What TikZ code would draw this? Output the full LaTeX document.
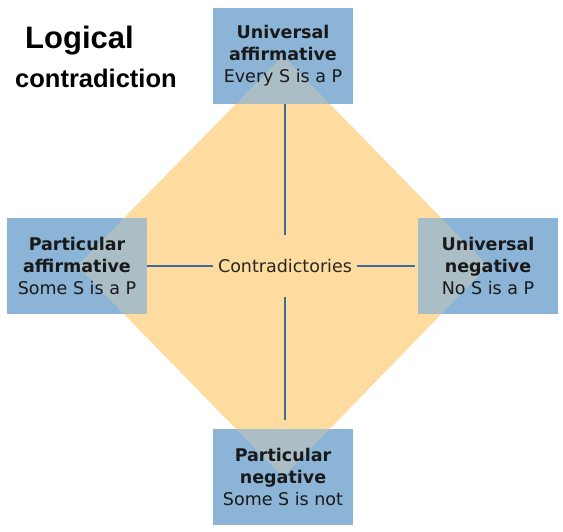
\documentclass[tikz,border=0pt]{standalone}
\usepackage{fontspec}
\setmainfont{DejaVu Sans}
\newfontfamily\titlefont{Liberation Sans}
\usetikzlibrary{positioning}
\definecolor{boxblue}{RGB}{140,180,214}
\definecolor{squareorange}{RGB}{254,219,159}
\definecolor{linkblue}{RGB}{58,108,156}
\pgfdeclarelayer{background}
\pgfsetlayers{background,main}

\begin{document}
\begin{tikzpicture}[x=1pt, y=-1pt,
    corner/.style={rectangle, minimum width=139pt, minimum height=96pt, inner sep=0pt, align=center, text=black!90, font=\fontsize{17.5}{22}\selectfont},
    title/.style={anchor=base west, inner sep=0pt},
    link/.style={draw=linkblue, line width=2.7pt}
]
    \useasboundingbox (0,0) rectangle (563,532);

    \node[title, font=\titlefont\bfseries\fontsize{31}{31}\selectfont] (t1) at (25,49) {Logical};
    \node[title, font=\titlefont\bfseries\fontsize{25.5}{25}\selectfont] (t2) at (15,88) {contradiction};

    \node[corner] (ua) at (283,56) {\textbf{Universal}\\\textbf{affirmative}\\Every S is a P};
    \node[corner] (pa) at (77,266) {\textbf{Particular}\\\textbf{affirmative}\\Some S is a P};
    \node[corner] (un) at (488,266) {\textbf{Universal}\\\textbf{negative}\\No S is a P};
    \node[corner] (pn) at (283,477) {\textbf{Particular}\\\textbf{negative}\\Some S is not};

    \node[font=\fontsize{17.5}{20}\selectfont, text=black!85, minimum height=62pt, inner xsep=5pt] (c) at (285,266) {Contradictories};

    \draw[link] (ua.south -| c) -- (c);
    \draw[link, shorten >=9pt] (c) -- (pn.north -| c);
    \draw[link] (pa) -- (c);
    \draw[link, shorten >=3pt] (c) -- (un);

    \begin{pgfonlayer}{background}
        \fill[squareorange] (ua.center) -- (un.center) -- (pn.center) -- (pa.center) -- cycle;
        \foreach \n in {ua,pa,un,pn}
            \fill[boxblue] (\n.south west) rectangle (\n.north east);
        \fill[squareorange, fill opacity=0.28] (ua.center) -- (un.center) -- (pn.center) -- (pa.center) -- cycle;
    \end{pgfonlayer}

\end{tikzpicture}
\end{document}
